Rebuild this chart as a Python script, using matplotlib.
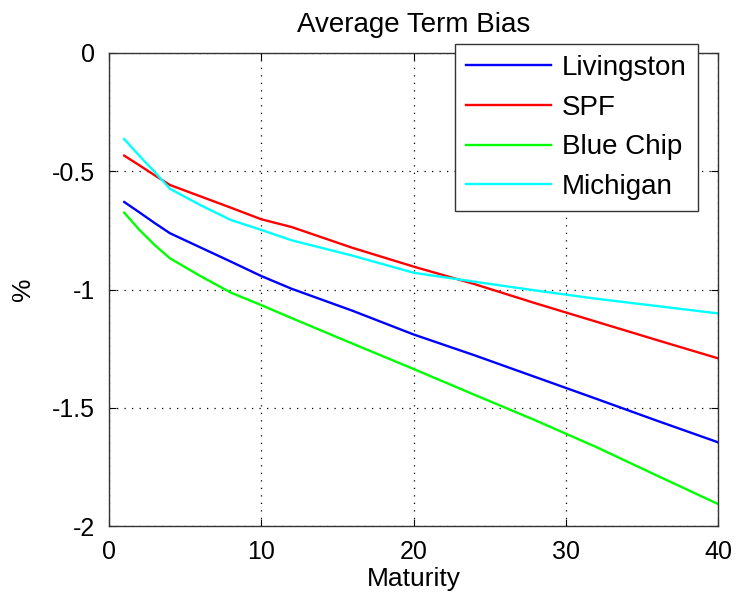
import matplotlib
matplotlib.use("Agg")
import matplotlib.pyplot as plt

plt.rcParams['font.family'] = ['Liberation Sans', 'DejaVu Sans']

# maturities (quarters) and average term bias in percent
maturity = [1, 2, 3, 4, 6, 8, 10, 12, 16, 20, 24, 28, 32, 36, 40]
livingston = [-0.63, -0.674, -0.719, -0.762, -0.822, -0.882, -0.943, -0.997,
              -1.09, -1.19, -1.278, -1.37, -1.462, -1.555, -1.646]
spf = [-0.434, -0.475, -0.517, -0.558, -0.606, -0.654, -0.703, -0.736,
       -0.824, -0.903, -0.977, -1.058, -1.136, -1.214, -1.291]
blue_chip = [-0.675, -0.748, -0.812, -0.868, -0.943, -1.013, -1.066, -1.121,
             -1.229, -1.336, -1.445, -1.553, -1.666, -1.787, -1.907]
michigan = [-0.364, -0.435, -0.503, -0.574, -0.643, -0.706, -0.748, -0.792,
            -0.857, -0.929, -0.967, -1.004, -1.039, -1.07, -1.101]

series = [('Livingston', livingston, (0, 0, 1)),
          ('SPF', spf, (1, 0, 0)),
          ('Blue Chip', blue_chip, (0, 1, 0)),
          ('Michigan', michigan, (0, 1, 1))]

fig = plt.figure(figsize=(7.36, 6.03), dpi=100)
ax = fig.add_axes([109/736, 1 - 526/603, 609/736, 473/603])

for name, vals, col in series:
    ax.plot(maturity, vals, color=col, lw=1.7, label=name)

ax.set_xlim(0, 40)
ax.set_ylim(-2, 0)
ax.set_xticks([0, 10, 20, 30, 40])
ax.set_yticks([-2, -1.5, -1, -0.5, 0])
ax.set_yticklabels(['-2', '-1.5', '-1', '-0.5', '0'])
ax.tick_params(direction='in', length=5, width=0.8, labelsize=18,
               top=True, right=True, pad=10)
ax.grid(True, color='black', linestyle=(0, (1, 5)), linewidth=0.9)
for sp in ax.spines.values():
    sp.set_color('#333333')
    sp.set_linewidth(1.0)

ax.set_title('Average Term Bias', fontsize=20, pad=15)
ax.set_xlabel('Maturity', fontsize=19, labelpad=2)
ax.set_ylabel('%', fontsize=19, labelpad=12)

leg = ax.legend(loc='upper left', bbox_to_anchor=(455/736, 1 - 44/603),
                bbox_transform=fig.transFigure, fontsize=20, handlelength=3.05,
                handletextpad=0.4, borderaxespad=0, borderpad=0.4,
                labelspacing=0.49, fancybox=False, framealpha=1)
leg.get_frame().set_edgecolor('#333333')
leg.get_frame().set_linewidth(1.0)

fig.savefig('out.png', dpi=100)
